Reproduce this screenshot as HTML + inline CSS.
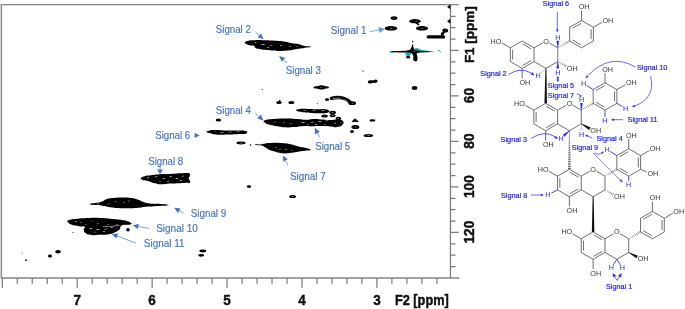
<!DOCTYPE html>
<html><head><meta charset="utf-8"><title>HSQC spectrum</title>
<style>html,body{margin:0;padding:0;background:#fff}svg{display:block}</style></head>
<body><svg width="685" height="309" viewBox="0 0 685 309">
<rect width="685" height="309" fill="#fff"/>
<g stroke="#7c7c7c" stroke-width="1.25" fill="none">
<path d="M1.35 277.6V4.5" stroke="#8c8c8c" stroke-width="1.5"/>
<path d="M0.7 4.55H458.8" stroke="#858585" stroke-width="1.35"/>
<path d="M0.7 277.9H459.2" stroke="#858585" stroke-width="1.5"/>
<path d="M450.45 4.5V277.9M2.3 277.9V287.8"/>
<path d="M17.29 277.9V283.8M32.27 277.9V283.8M47.25 277.9V283.8M62.24 277.9V283.8M77.22 277.9V287.8M92.21 277.9V283.8M107.19 277.9V283.8M122.18 277.9V283.8M137.17 277.9V283.8M152.15 277.9V287.8M167.13 277.9V283.8M182.12 277.9V283.8M197.11 277.9V283.8M212.09 277.9V283.8M227.07 277.9V287.8M242.06 277.9V283.8M257.05 277.9V283.8M272.03 277.9V283.8M287.01 277.9V283.8M302 277.9V287.8M316.99 277.9V283.8M331.97 277.9V283.8M346.95 277.9V283.8M361.94 277.9V283.8M376.93 277.9V287.8M391.91 277.9V283.8M406.89 277.9V283.8M421.88 277.9V283.8M436.87 277.9V283.8"/>
<path d="M450.4 16.27H455.5M450.4 27.65H455.5M450.4 39.02H455.5M450.4 50.4H458.6M450.4 61.77H455.5M450.4 73.15H455.5M450.4 84.53H455.5M450.4 95.9H458.6M450.4 107.28H455.5M450.4 118.65H455.5M450.4 130.03H455.5M450.4 141.4H458.6M450.4 152.78H455.5M450.4 164.15H455.5M450.4 175.53H455.5M450.4 186.9H458.6M450.4 198.28H455.5M450.4 209.65H455.5M450.4 221.03H455.5M450.4 232.4H458.6M450.4 243.78H455.5M450.4 255.15H455.5M450.4 266.52H455.5"/>
</g>
<g font-family="Liberation Sans, sans-serif" font-weight="bold" fill="#111" stroke="#111" stroke-width="0.45">
<text x="0" y="0" font-size="15" text-anchor="middle" transform="translate(77.2 304.7) scale(0.9 1)">7</text>
<text x="0" y="0" font-size="15" text-anchor="middle" transform="translate(152.12 304.7) scale(0.9 1)">6</text>
<text x="0" y="0" font-size="15" text-anchor="middle" transform="translate(227.04 304.7) scale(0.9 1)">5</text>
<text x="0" y="0" font-size="15" text-anchor="middle" transform="translate(301.96 304.7) scale(0.9 1)">4</text>
<text x="0" y="0" font-size="15" text-anchor="middle" transform="translate(376.88 304.7) scale(0.9 1)">3</text>
<text x="394.9" y="304.5" font-size="15" textLength="53.9" lengthAdjust="spacingAndGlyphs">F2 [ppm]</text>
<text transform="translate(474 95.6) rotate(-90) scale(0.96 1)" font-size="14.2" text-anchor="middle">60</text>
<text transform="translate(474 141.1) rotate(-90) scale(0.96 1)" font-size="14.2" text-anchor="middle">80</text>
<text transform="translate(474 186.6) rotate(-90) scale(0.96 1)" font-size="14.2" text-anchor="middle">100</text>
<text transform="translate(474 232.1) rotate(-90) scale(0.96 1)" font-size="14.2" text-anchor="middle">120</text>
<text transform="translate(473.5 63.1) rotate(-90)" font-size="13.4" textLength="56.8" lengthAdjust="spacingAndGlyphs">F1 [ppm]</text>
</g>
<g>
<path d="M245.11 42.23 C246.01 41.22 245.17 41.38 248.48 40.69 C251.78 39.99 249.58 40.26 255.02 40.13 C260.45 40.01 258.2 40.09 264.78 40.3 C271.36 40.52 268.43 40.4 274.77 40.77 C281.1 41.13 278.39 40.66 283.78 41.4 C289.18 42.13 286.29 42.07 290.96 42.96 C295.64 43.85 293.44 43.11 297.81 44.06 C302.18 45.02 299.99 44.99 304.06 45.82 C308.14 46.65 307.78 46.13 310.04 46.55 C312.3 46.96 312.79 46.62 310.84 47.07 C308.89 47.52 308.85 47.25 304.18 47.89 C299.51 48.54 301.58 48.19 296.82 49.01 C292.06 49.83 294.9 49.71 289.9 50.36 C284.91 51 287.79 50.88 281.84 50.94 C275.9 51 278.67 50.99 272.07 50.54 C265.46 50.08 267.45 50.41 262.02 49.58 C256.59 48.75 258.42 49.26 255.78 48.05 C253.14 46.85 256.25 46.9 254.09 45.96 C251.93 45.03 252.08 46 249.31 45.24 C246.54 44.49 247.17 44.71 245.78 43.7 C244.38 42.69 244.21 43.23 245.11 42.23Z" fill="#000"/>
<ellipse cx="263" cy="44.6" rx="2.17" ry="0.28" fill="#e8e8e8" transform="rotate(3 263 44.6)"/>
<ellipse cx="271" cy="45.2" rx="1.86" ry="0.28" fill="#e8e8e8" transform="rotate(4 271 45.2)"/>
<ellipse cx="255.5" cy="42.6" rx="1.24" ry="0.28" fill="#e8e8e8"/>
<ellipse cx="281" cy="45.6" rx="1.24" ry="0.28" fill="#e8e8e8" transform="rotate(3 281 45.6)"/>
<ellipse cx="290" cy="46.4" rx="0.93" ry="0.28" fill="#e8e8e8"/>
<ellipse cx="268" cy="47.4" rx="1.24" ry="0.28" fill="#e8e8e8"/>
<ellipse cx="297" cy="46.6" rx="0.74" ry="0.28" fill="#e8e8e8"/>
<path d="M263.75 121.3 C264.43 120.35 263.45 120.41 266.87 119.64 C270.29 118.87 267.93 119.37 274.01 118.99 C280.09 118.61 277.37 118.49 285.11 118.49 C292.86 118.5 290.29 118.6 297.24 119.01 C304.19 119.42 300.43 119.73 305.96 119.73 C311.49 119.72 308.56 119.08 313.83 118.99 C319.1 118.91 316.33 119.14 321.77 119.48 C327.21 119.83 324.99 120.03 330.13 120.04 C335.27 120.04 333.2 119.3 337.19 119.51 C341.18 119.71 340.35 118.96 342.1 120.65 C343.85 122.34 344.08 122.45 342.44 124.58 C340.8 126.7 341.32 126.39 337.17 127.02 C333.02 127.66 335.12 126.79 329.99 126.48 C324.86 126.17 327.75 126.18 321.78 126.1 C315.81 126.02 318.61 126.22 312.07 126.25 C305.53 126.28 308.2 125.91 302.16 126.19 C296.12 126.47 299.74 126.72 293.94 127.08 C288.14 127.45 290.8 127.64 284.76 127.28 C278.72 126.92 281.16 126.92 275.83 126.01 C270.51 125.09 272.45 125.71 268.78 124.53 C265.11 123.36 266.49 123.55 264.81 122.47 C263.14 121.4 263.06 122.25 263.75 121.3Z" fill="#000"/>
<ellipse cx="275" cy="122" rx="1.36" ry="0.31" fill="#e8e8e8"/>
<ellipse cx="284" cy="122.8" rx="0.99" ry="0.31" fill="#e8e8e8"/>
<ellipse cx="291" cy="123.4" rx="0.74" ry="0.31" fill="#e8e8e8"/>
<ellipse cx="303" cy="122.6" rx="2.17" ry="0.31" fill="#e8e8e8" transform="rotate(-4 303 122.6)"/>
<ellipse cx="312" cy="122.2" rx="1.98" ry="0.31" fill="#e8e8e8" transform="rotate(-5 312 122.2)"/>
<ellipse cx="320" cy="121.6" rx="1.86" ry="0.31" fill="#e8e8e8" transform="rotate(-6 320 121.6)"/>
<ellipse cx="327" cy="120.8" rx="1.61" ry="0.31" fill="#e8e8e8" transform="rotate(-4 327 120.8)"/>
<ellipse cx="316" cy="124.6" rx="1.55" ry="0.31" fill="#e8e8e8"/>
<ellipse cx="325" cy="124.2" rx="1.36" ry="0.31" fill="#e8e8e8"/>
<ellipse cx="333" cy="122.6" rx="1.24" ry="0.31" fill="#e8e8e8" transform="rotate(-10 333 122.6)"/>
<ellipse cx="336" cy="124.8" rx="0.99" ry="0.31" fill="#e8e8e8"/>
<ellipse cx="308" cy="124.8" rx="1.12" ry="0.31" fill="#e8e8e8"/>
<path d="M296.35 110.19 C296.96 109.43 295.9 109.41 299.79 108.97 C303.68 108.54 301.9 108.82 308.02 108.89 C314.15 108.96 312.54 109.09 318.16 109.18 C323.78 109.27 321.3 108.75 324.89 109.16 C328.48 109.56 327.48 109.64 328.93 110.39 C330.38 111.15 330.26 110.53 329.23 111.43 C328.2 112.32 328.96 112.44 325.84 113.07 C322.72 113.69 324.8 113.35 319.87 113.29 C314.94 113.23 316.75 113.23 311.04 112.88 C305.34 112.54 307.12 112.81 302.75 112.26 C298.38 111.71 300.07 111.92 297.93 111.23 C295.8 110.54 295.73 110.94 296.35 110.19Z" fill="#000"/>
<ellipse cx="305" cy="110.2" rx="1.86" ry="0.28" fill="#e8e8e8" transform="rotate(3 305 110.2)"/>
<ellipse cx="314" cy="110.8" rx="1.86" ry="0.28" fill="#e8e8e8" transform="rotate(2 314 110.8)"/>
<ellipse cx="323" cy="110.6" rx="2.11" ry="0.28" fill="#e8e8e8"/>
<ellipse cx="330" cy="110.8" rx="1.24" ry="0.28" fill="#e8e8e8"/>
<ellipse cx="332.6" cy="112.4" rx="3.4" ry="1.7" fill="#000"/>
<ellipse cx="332.6" cy="112.4" rx="0.99" ry="0.37" fill="#e8e8e8"/>
<ellipse cx="324.6" cy="116" rx="3.2" ry="1.5" fill="#000"/>
<ellipse cx="324.6" cy="116" rx="0.99" ry="0.31" fill="#e8e8e8"/>
<ellipse cx="332.6" cy="115.6" rx="3" ry="1.6" fill="#000"/>
<ellipse cx="332.6" cy="115.6" rx="0.87" ry="0.37" fill="#e8e8e8"/>
<ellipse cx="338.4" cy="118.6" rx="2.8" ry="1.8" fill="#000"/>
<ellipse cx="338.4" cy="118.6" rx="0.74" ry="0.37" fill="#e8e8e8"/>
<ellipse cx="341" cy="122.4" rx="2.4" ry="2.2" fill="#000"/>
<ellipse cx="341" cy="122.4" rx="0.62" ry="0.43" fill="#e8e8e8"/>
<ellipse cx="335" cy="123" rx="3" ry="2.4" fill="#000"/>
<ellipse cx="335" cy="123" rx="0.87" ry="0.5" fill="#e8e8e8"/>
<path d="M331.4 98.4 Q337 96.8 343 98 Q347.4 99.4 350.6 102.6" fill="none" stroke="#000" stroke-width="3.3" stroke-linecap="round"/>
<path d="M333 98.7 Q337 97.7 340 98.2" fill="none" stroke="#ddd" stroke-width="0.6" stroke-linecap="round"/>
<path d="M344.6 99.6 L347 101.2" fill="none" stroke="#ddd" stroke-width="0.6" stroke-linecap="round"/>
<ellipse cx="352.2" cy="103.2" rx="3.8" ry="1.9" fill="#000"/>
<ellipse cx="352.6" cy="103.2" rx="0.99" ry="0.31" fill="#e8e8e8"/>
<ellipse cx="327" cy="99.6" rx="2.2" ry="1.3" fill="#000"/>
<path d="M206.63 131.8 C207.14 131.21 206.19 131.33 209.01 130.76 C211.83 130.19 209.69 130.15 215.09 130.08 C220.49 130 218.5 130.38 225.2 130.54 C231.9 130.7 229.61 130.55 235.19 130.55 C240.77 130.55 238.21 130.28 241.95 130.55 C245.68 130.82 244.66 130.79 246.4 131.37 C248.15 131.95 247.23 131.6 247.18 132.28 C247.13 132.97 247.67 132.87 246.25 133.43 C244.83 134 246.09 133.74 242.92 133.98 C239.75 134.21 241.79 133.97 236.75 134.13 C231.71 134.28 234.13 134.24 227.8 134.43 C221.47 134.62 223.34 134.96 217.76 134.69 C212.18 134.42 214.49 134.35 211.06 133.62 C207.63 132.9 208.95 133.13 207.48 132.52 C206 131.91 206.12 132.38 206.63 131.8Z" fill="#000"/>
<ellipse cx="222" cy="132.4" rx="1.86" ry="0.28" fill="#e8e8e8"/>
<ellipse cx="230" cy="132" rx="2.11" ry="0.28" fill="#e8e8e8" transform="rotate(-3 230 132)"/>
<ellipse cx="238" cy="131.8" rx="1.86" ry="0.28" fill="#e8e8e8"/>
<ellipse cx="215" cy="131.8" rx="0.74" ry="0.28" fill="#e8e8e8"/>
<path d="M255.93 144.31 C257.37 144.09 257.49 144.62 260.17 144.45 C262.86 144.27 260.78 144.27 263.98 143.79 C267.19 143.31 264.48 143.27 269.79 143 C275.11 142.73 273.46 142.67 279.92 142.98 C286.38 143.29 283.22 142.85 289.16 143.93 C295.11 145.01 292.48 144.93 297.76 146.23 C303.04 147.52 300.93 146.81 305.01 147.82 C309.1 148.84 308.35 148.42 310.02 149.26 C311.69 150.1 311.63 149.83 310.01 150.34 C308.4 150.85 309.23 150.33 305.18 150.8 C301.14 151.26 303 151.02 297.88 151.73 C292.76 152.45 295.12 152.47 289.83 152.94 C284.55 153.4 286.99 153.6 282.02 153.14 C277.04 152.68 279.2 152.73 274.91 151.56 C270.63 150.4 272.57 151.18 269.16 149.64 C265.74 148.11 267.34 148.33 264.68 146.95 C262.01 145.58 264.1 146.13 261.16 145.52 C258.22 144.91 257.61 145.51 255.86 145.11 C254.12 144.71 254.5 144.53 255.93 144.31Z" fill="#000"/>
<ellipse cx="280" cy="149" rx="1.36" ry="0.28" fill="#e8e8e8"/>
<ellipse cx="286" cy="149.6" rx="0.87" ry="0.28" fill="#e8e8e8"/>
<ellipse cx="292" cy="150" rx="0.74" ry="0.28" fill="#e8e8e8"/>
<ellipse cx="276" cy="147.4" rx="0.74" ry="0.28" fill="#e8e8e8"/>
<path d="M140.93 178.36 C141.53 177.12 141.45 177.31 144.76 176.29 C148.08 175.27 145.72 175.97 150.88 175.3 C156.03 174.62 153.78 174.69 160.23 174.27 C166.67 173.86 163.55 174.36 170.22 174.04 C176.88 173.73 174.68 173.69 180.23 173.33 C185.77 172.97 183.72 172.86 186.86 172.96 C190 173.07 188.71 172.57 189.65 173.65 C190.58 174.73 189.95 174.62 189.66 176.2 C189.37 177.78 188.63 176.27 188.77 178.39 C188.91 180.51 191.4 181.05 190.08 182.55 C188.75 184.05 188.75 182.68 184.79 182.88 C180.84 183.08 183.09 182.9 178.2 183.14 C173.32 183.38 175.58 183.25 170.13 183.59 C164.67 183.92 166.91 184.29 161.84 184.14 C156.77 184 159.45 184.15 154.92 183.15 C150.38 182.15 152.22 182.19 148.24 181.15 C144.25 180.11 145.39 180.95 142.95 180.02 C140.51 179.1 140.32 179.61 140.93 178.36Z" fill="#000"/>
<ellipse cx="148" cy="177.6" rx="1.24" ry="0.31" fill="#e8e8e8" transform="rotate(-20 148 177.6)"/>
<ellipse cx="156" cy="176.8" rx="1.49" ry="0.31" fill="#e8e8e8" transform="rotate(-15 156 176.8)"/>
<ellipse cx="164" cy="178.6" rx="1.61" ry="0.31" fill="#e8e8e8" transform="rotate(-10 164 178.6)"/>
<ellipse cx="171" cy="176.4" rx="1.49" ry="0.31" fill="#e8e8e8" transform="rotate(-25 171 176.4)"/>
<ellipse cx="177" cy="178.4" rx="1.49" ry="0.31" fill="#e8e8e8" transform="rotate(-15 177 178.4)"/>
<ellipse cx="183" cy="176.2" rx="1.24" ry="0.31" fill="#e8e8e8" transform="rotate(-30 183 176.2)"/>
<ellipse cx="160" cy="181" rx="1.24" ry="0.31" fill="#e8e8e8"/>
<ellipse cx="168" cy="181.2" rx="1.36" ry="0.31" fill="#e8e8e8" transform="rotate(-10 168 181.2)"/>
<ellipse cx="181" cy="180.6" rx="1.24" ry="0.31" fill="#e8e8e8" transform="rotate(-20 181 180.6)"/>
<path d="M91.11 203.44 C93.01 202.83 93.12 203.45 96.81 202.83 C100.51 202.2 99.2 202.64 102.2 201.55 C105.21 200.47 102.48 200.72 105.82 199.56 C109.17 198.41 107.54 198.72 112.24 198.08 C116.94 197.43 114.07 197.73 119.93 197.62 C125.78 197.52 123.71 197.07 129.82 197.76 C135.92 198.44 133.84 198.32 138.24 199.67 C142.63 201.03 139.1 200.51 143.01 201.82 C146.92 203.12 144.25 202.87 149.97 203.59 C155.68 204.3 154.53 203.65 160.16 203.96 C165.8 204.26 164.64 203.97 166.88 204.5 C169.11 205.03 169.87 205.02 166.87 205.54 C163.87 206.06 163.56 205.71 157.88 206.06 C152.19 206.41 154.47 206.33 149.82 206.61 C145.16 206.88 147.85 206.51 143.93 206.88 C140 207.24 143.36 207.26 138.04 207.7 C132.72 208.15 134.64 208.1 127.96 208.21 C121.28 208.31 123.98 208.37 118 208.02 C112.02 207.67 114.69 207.82 110.01 207.16 C105.33 206.5 107.39 206.71 103.97 206.04 C100.55 205.37 102.8 205.53 99.75 205.15 C96.71 204.76 97.72 205.06 94.84 204.89 C91.96 204.71 92.35 205.11 91.11 204.63 C89.87 204.14 89.21 204.04 91.11 203.44Z" fill="#000"/>
<ellipse cx="116" cy="201.6" rx="0.99" ry="0.28" fill="#e8e8e8" transform="rotate(-15 116 201.6)"/>
<ellipse cx="124" cy="202.6" rx="0.74" ry="0.28" fill="#e8e8e8" transform="rotate(-10 124 202.6)"/>
<ellipse cx="129" cy="201" rx="0.99" ry="0.28" fill="#e8e8e8" transform="rotate(-15 129 201)"/>
<ellipse cx="98" cy="203.9" rx="1.36" ry="0.28" fill="#e8e8e8"/>
<ellipse cx="109" cy="203.4" rx="0.62" ry="0.28" fill="#e8e8e8"/>
<path d="M67.51 221.01 C68.07 220.03 66.6 220.44 70.03 219.64 C73.46 218.85 71.19 219.18 77.8 218.63 C84.42 218.08 82.43 218.2 89.87 217.99 C97.32 217.78 93.42 217.79 100.14 218 C106.86 218.22 103.34 218.04 110.03 218.63 C116.72 219.22 114.53 218.91 120.21 219.77 C125.88 220.63 123.46 220.09 127.06 221.2 C130.66 222.31 129.7 222.09 131.01 223.1 C132.31 224.1 132.32 223.64 130.98 224.22 C129.64 224.79 129.61 224.53 126.99 224.82 C124.36 225.11 125.22 224.54 123.1 225.09 C120.98 225.64 121.84 224.97 120.62 226.48 C119.4 227.99 121.25 227.71 119.43 229.62 C117.61 231.53 118.71 230.7 115.17 232.22 C111.63 233.74 113.94 233.29 108.81 234.17 C103.68 235.05 105.46 234.63 99.79 234.87 C94.11 235.11 96.33 235.38 91.79 234.88 C87.24 234.39 88.8 234.99 86.14 233.4 C83.49 231.81 84.31 232.3 83.83 230.11 C83.34 227.92 86.23 228.11 84.68 226.82 C83.13 225.53 83.46 226.9 79.19 226.23 C74.92 225.57 75.47 226.04 71.86 224.83 C68.25 223.61 69.8 223.87 68.35 222.59 C66.9 221.32 66.95 221.99 67.51 221.01Z" fill="#000"/>
<ellipse cx="76" cy="221.4" rx="1.24" ry="0.31" fill="#e8e8e8"/>
<ellipse cx="81" cy="222.6" rx="0.87" ry="0.31" fill="#e8e8e8"/>
<ellipse cx="92" cy="221" rx="0.74" ry="0.31" fill="#e8e8e8"/>
<ellipse cx="98" cy="223.4" rx="0.74" ry="0.31" fill="#e8e8e8"/>
<ellipse cx="91" cy="228.6" rx="1.86" ry="0.31" fill="#e8e8e8" transform="rotate(-5 91 228.6)"/>
<ellipse cx="98" cy="229.4" rx="2.11" ry="0.31" fill="#e8e8e8" transform="rotate(-8 98 229.4)"/>
<ellipse cx="106" cy="229" rx="1.86" ry="0.31" fill="#e8e8e8" transform="rotate(-12 106 229)"/>
<ellipse cx="112" cy="227.4" rx="1.61" ry="0.31" fill="#e8e8e8" transform="rotate(-20 112 227.4)"/>
<ellipse cx="95" cy="232" rx="1.49" ry="0.31" fill="#e8e8e8"/>
<ellipse cx="104" cy="231.6" rx="1.24" ry="0.31" fill="#e8e8e8" transform="rotate(-10 104 231.6)"/>
<ellipse cx="86" cy="224.4" rx="0.74" ry="0.31" fill="#e8e8e8"/>
<ellipse cx="108" cy="224.6" rx="0.74" ry="0.31" fill="#e8e8e8"/>
<ellipse cx="117" cy="224.4" rx="0.87" ry="0.31" fill="#e8e8e8"/>
<path d="M103 226.6Q111 226.6 119.6 225.4" stroke="#eee" stroke-width="0.55" fill="none"/>
<ellipse cx="128" cy="229.7" rx="1.8" ry="1.7" fill="#000"/>
<ellipse cx="73" cy="232.5" rx="0.7" ry="0.6" fill="#333"/>
<ellipse cx="58" cy="251.7" rx="2.8" ry="1.8" fill="#000"/>
<ellipse cx="50" cy="256.1" rx="2" ry="1.5" fill="#000"/>
<ellipse cx="22" cy="253" rx="0.7" ry="0.6" fill="#555"/>
<ellipse cx="26" cy="260.2" rx="1" ry="0.9" fill="#222"/>
<ellipse cx="202.8" cy="251" rx="3.4" ry="1.4" fill="#000"/>
<ellipse cx="201.2" cy="255.3" rx="3" ry="1.4" fill="#000"/>
<ellipse cx="249" cy="186.6" rx="2.2" ry="1.3" fill="#000"/>
<ellipse cx="292.6" cy="196.6" rx="3.4" ry="1.5" fill="#000"/>
<ellipse cx="292.6" cy="196.6" rx="0.87" ry="0.28" fill="#e8e8e8"/>
<ellipse cx="218.4" cy="120" rx="2.8" ry="1.5" fill="#000"/>
<ellipse cx="241" cy="143" rx="4.6" ry="1.4" fill="#000"/>
<ellipse cx="241" cy="143" rx="1.24" ry="0.25" fill="#e8e8e8"/>
<ellipse cx="250.6" cy="145" rx="0.8" ry="0.7" fill="#000"/>
<ellipse cx="279" cy="102.5" rx="2.8" ry="1.5" fill="#000"/>
<ellipse cx="279.8" cy="100.6" rx="0.8" ry="0.8" fill="#000"/>
<ellipse cx="291.4" cy="102.6" rx="3" ry="1.5" fill="#000"/>
<ellipse cx="321.2" cy="87.4" rx="7.8" ry="1.7" fill="#000"/>
<ellipse cx="321.4" cy="87.4" rx="3.4" ry="2.2" fill="#000"/>
<ellipse cx="321.2" cy="87.4" rx="0.99" ry="0.25" fill="#e8e8e8"/>
<ellipse cx="372.6" cy="81.6" rx="4.6" ry="1.4" fill="#000"/>
<ellipse cx="370.2" cy="82.1" rx="2.4" ry="1.5" fill="#000"/>
<ellipse cx="375.6" cy="81" rx="2" ry="1.5" fill="#000"/>
<ellipse cx="414.6" cy="88" rx="2.8" ry="1.9" fill="#000"/>
<ellipse cx="363" cy="71.1" rx="0.8" ry="0.6" fill="#444"/>
<ellipse cx="262.4" cy="89.4" rx="0.7" ry="0.6" fill="#555"/>
<ellipse cx="317.4" cy="103.6" rx="0.7" ry="0.6" fill="#555"/>
<path d="M352 121.6L355 118.8L358.4 121.6Z" fill="#000" stroke="#000" stroke-width="0.8" stroke-linejoin="round"/>
<ellipse cx="372.4" cy="120.4" rx="3" ry="1.2" fill="#000"/>
<ellipse cx="355.4" cy="127" rx="4" ry="2" fill="#000"/>
<ellipse cx="355.4" cy="127" rx="0.99" ry="0.37" fill="#e8e8e8"/>
<ellipse cx="352" cy="131.6" rx="1.9" ry="1.5" fill="#000"/>
<ellipse cx="368.4" cy="135.4" rx="4.8" ry="1.5" fill="#000"/>
<ellipse cx="368.4" cy="135.4" rx="1.36" ry="0.28" fill="#e8e8e8"/>
<ellipse cx="394" cy="18.1" rx="3.5" ry="1.9" fill="#000"/>
<ellipse cx="394" cy="18.1" rx="0.74" ry="0.22" fill="#e8e8e8"/>
<ellipse cx="415" cy="21.2" rx="5.9" ry="2.1" fill="#000"/>
<ellipse cx="416.4" cy="21" rx="0.99" ry="0.31" fill="#e8e8e8"/>
<path d="M416 22.6L418.6 24.6" stroke="#000" stroke-width="1.6" stroke-linecap="round"/>
<ellipse cx="391" cy="28.3" rx="6.4" ry="2.3" fill="#000"/>
<ellipse cx="391.2" cy="28.3" rx="1.24" ry="0.25" fill="#e8e8e8"/>
<ellipse cx="422" cy="28.3" rx="6.1" ry="2.3" fill="#000"/>
<ellipse cx="422.2" cy="28.3" rx="1.24" ry="0.25" fill="#e8e8e8"/>
<rect x="426.6" y="35.2" width="18.6" height="3.2" rx="1.5" fill="#000"/>
<ellipse cx="442.6" cy="33.6" rx="1.7" ry="1.5" fill="#000"/>
<ellipse cx="445.2" cy="30.5" rx="2.9" ry="2.1" fill="#000"/>
<ellipse cx="445.2" cy="30.4" rx="0.5" ry="0.25" fill="#e8e8e8"/>
<path d="M441 36L443 33.4L445 31" stroke="#000" stroke-width="1.6" fill="none"/>
<path d="M447.6 6.8L450 5.2V8.6Z M447.6 21.3L450 19.5V23.1Z" fill="#000" stroke="#000" stroke-width="0.8" stroke-linejoin="round"/>
<path d="M413.6 50.8Q414.4 47.4 417.4 48.2Q421 50 426 50.6L431 51.4L414 52Z" fill="#13a5a8"/>
<path d="M405.8 52.6L411 52.2L410.4 55.6Q407.6 56.6 405.4 55Z" fill="#13a5a8"/>
<ellipse cx="392" cy="52.2" rx="2" ry="0.8" fill="#13a5a8"/>
<path d="M437.6 50.2L439.6 50.6L440.6 52.2" stroke="#13a5a8" stroke-width="0.9" fill="none"/>
<path d="M388.8 51.3L398 50.9L406 50.7L410 49.8L411.6 47L412.4 44.2L412.9 44L413.6 47.4L414.6 50.2L420 51L428 51.2L435 51.3L428 52.2L420 52.6L416.6 53.2L417.6 58L417 61L415 61.6L413.2 60L413.4 56L412 53.4L409 52.6L402 52.4L394 52.2Z" fill="#000"/>
<ellipse cx="412.7" cy="41.6" rx="0.7" ry="0.8" fill="#000"/>
<ellipse cx="408.2" cy="57.2" rx="2.2" ry="1.3" fill="#000"/>
<ellipse cx="408.2" cy="57.2" rx="0.5" ry="0.22" fill="#e8e8e8"/>
<ellipse cx="414.1" cy="51.5" rx="0.56" ry="0.43" fill="#e8e8e8"/>
</g>
<g font-family="Liberation Sans, sans-serif" font-size="10.4" fill="#4472c4" stroke="#4472c4" stroke-width="0.15">
<text x="215.8" y="32.6" textLength="35" lengthAdjust="spacingAndGlyphs">Signal 2</text>
<text x="285.8" y="74.2" textLength="35" lengthAdjust="spacingAndGlyphs">Signal 3</text>
<text x="330.8" y="34.1" textLength="35.6" lengthAdjust="spacingAndGlyphs">Signal 1</text>
<text x="215.8" y="114" textLength="35" lengthAdjust="spacingAndGlyphs">Signal 4</text>
<text x="155.2" y="139" textLength="35" lengthAdjust="spacingAndGlyphs">Signal 6</text>
<text x="315.2" y="149.6" textLength="35" lengthAdjust="spacingAndGlyphs">Signal 5</text>
<text x="290" y="179.7" textLength="35.8" lengthAdjust="spacingAndGlyphs">Signal 7</text>
<text x="148.2" y="164.6" textLength="35" lengthAdjust="spacingAndGlyphs">Signal 8</text>
<text x="190.8" y="217.1" textLength="35.4" lengthAdjust="spacingAndGlyphs">Signal 9</text>
<text x="156.2" y="231.7" textLength="41.6" lengthAdjust="spacingAndGlyphs">Signal 10</text>
<text x="143.8" y="247.1" textLength="40.8" lengthAdjust="spacingAndGlyphs">Signal 11</text>
</g>
<line x1="255.4" y1="31.8" x2="259.29" y2="35.31" stroke="#4472c4" stroke-width="0.65"/>
<polygon points="263.6,39.2 257.55,37.24 261.04,33.38" fill="#4472c4"/>
<line x1="287.2" y1="63.2" x2="283.51" y2="59.88" stroke="#4472c4" stroke-width="0.65"/>
<polygon points="279.2,56 285.25,57.95 281.77,61.81" fill="#4472c4"/>
<line x1="370" y1="31.6" x2="379.09" y2="29.94" stroke="#5b9bd5" stroke-width="0.8"/>
<polygon points="384.8,28.9 379.65,32.99 378.54,26.89" fill="#5b9bd5"/>
<line x1="255.2" y1="113.2" x2="259.04" y2="116.57" stroke="#4472c4" stroke-width="0.65"/>
<polygon points="263.4,120.4 257.33,118.53 260.76,114.62" fill="#4472c4"/>
<polygon points="199.8,135.4 194.6,137.9 194.6,132.9" fill="#4472c4"/>
<line x1="319.4" y1="137.2" x2="317.35" y2="133.01" stroke="#4472c4" stroke-width="0.65"/>
<polygon points="314.8,127.8 319.68,131.87 315.01,134.15" fill="#4472c4"/>
<line x1="288" y1="165.2" x2="285.52" y2="160.52" stroke="#4472c4" stroke-width="0.65"/>
<polygon points="282.8,155.4 287.82,159.3 283.22,161.74" fill="#4472c4"/>
<line x1="160" y1="166" x2="160" y2="169.6" stroke="#4472c4" stroke-width="0.65"/>
<polygon points="160,174.2 157,169.6 163,169.6" fill="#4472c4"/>
<line x1="183.8" y1="213.2" x2="179.26" y2="210.64" stroke="#4472c4" stroke-width="0.65"/>
<polygon points="174.2,207.8 180.53,208.38 177.98,212.91" fill="#4472c4"/>
<line x1="149.2" y1="228.4" x2="138.31" y2="226.43" stroke="#4472c4" stroke-width="0.65"/>
<polygon points="132.6,225.4 138.77,223.87 137.85,228.99" fill="#4472c4"/>
<line x1="136.2" y1="243.2" x2="117.23" y2="236.05" stroke="#4472c4" stroke-width="0.65"/>
<polygon points="111.8,234 118.14,233.61 116.31,238.48" fill="#4472c4"/>
<g font-family="Liberation Sans, sans-serif">
<line x1="522.2" y1="41" x2="534.06" y2="47.85" stroke="#363636" stroke-width="0.72"/>
<line x1="534.06" y1="47.85" x2="534.06" y2="61.55" stroke="#363636" stroke-width="0.72"/>
<line x1="534.06" y1="61.55" x2="522.2" y2="68.4" stroke="#363636" stroke-width="0.72"/>
<line x1="522.2" y1="68.4" x2="510.34" y2="61.55" stroke="#363636" stroke-width="0.72"/>
<line x1="510.34" y1="61.55" x2="510.34" y2="47.85" stroke="#363636" stroke-width="0.72"/>
<line x1="510.34" y1="47.85" x2="522.2" y2="41" stroke="#363636" stroke-width="0.72"/>
<line x1="512.64" y1="59.63" x2="512.64" y2="49.77" stroke="#363636" stroke-width="0.72"/>
<line x1="522.71" y1="43.95" x2="531.25" y2="48.88" stroke="#363636" stroke-width="0.72"/>
<line x1="531.25" y1="60.52" x2="522.71" y2="65.45" stroke="#363636" stroke-width="0.72"/>
<line x1="534.06" y1="47.85" x2="542.81" y2="42.8" stroke="#363636" stroke-width="0.72"/>
<line x1="549.05" y1="42.8" x2="557.79" y2="47.85" stroke="#363636" stroke-width="0.72"/>
<line x1="557.79" y1="47.85" x2="557.79" y2="61.55" stroke="#363636" stroke-width="0.72"/>
<line x1="557.79" y1="61.55" x2="545.93" y2="68.4" stroke="#363636" stroke-width="0.72"/>
<line x1="545.93" y1="68.4" x2="534.06" y2="61.55" stroke="#363636" stroke-width="0.72"/>
<text x="545.93" y="43.58" fill="#363636" font-size="7.2" text-anchor="middle" >O</text>
<line x1="569.66" y1="41" x2="569.66" y2="27.3" stroke="#363636" stroke-width="0.72"/>
<line x1="569.66" y1="27.3" x2="581.52" y2="20.45" stroke="#363636" stroke-width="0.72"/>
<line x1="581.52" y1="20.45" x2="593.39" y2="27.3" stroke="#363636" stroke-width="0.72"/>
<line x1="593.39" y1="27.3" x2="593.39" y2="41" stroke="#363636" stroke-width="0.72"/>
<line x1="593.39" y1="41" x2="581.52" y2="47.85" stroke="#363636" stroke-width="0.72"/>
<line x1="581.52" y1="47.85" x2="569.66" y2="41" stroke="#363636" stroke-width="0.72"/>
<line x1="572.47" y1="28.33" x2="581.01" y2="23.4" stroke="#363636" stroke-width="0.72"/>
<line x1="591.09" y1="29.22" x2="591.09" y2="39.08" stroke="#363636" stroke-width="0.72"/>
<line x1="581.01" y1="44.9" x2="572.47" y2="39.97" stroke="#363636" stroke-width="0.72"/>
<line x1="558.72" y1="47.74" x2="558.35" y2="47.11" stroke="#363636" stroke-width="0.6"/>
<line x1="560.26" y1="46.99" x2="559.77" y2="46.14" stroke="#363636" stroke-width="0.6"/>
<line x1="561.81" y1="46.24" x2="561.2" y2="45.18" stroke="#363636" stroke-width="0.6"/>
<line x1="563.35" y1="45.49" x2="562.62" y2="44.21" stroke="#363636" stroke-width="0.6"/>
<line x1="564.9" y1="44.74" x2="564.04" y2="43.25" stroke="#363636" stroke-width="0.6"/>
<line x1="566.44" y1="44" x2="565.46" y2="42.29" stroke="#363636" stroke-width="0.6"/>
<line x1="567.99" y1="43.25" x2="566.88" y2="41.32" stroke="#363636" stroke-width="0.6"/>
<line x1="569.54" y1="42.5" x2="568.3" y2="40.36" stroke="#363636" stroke-width="0.6"/>
<line x1="510.34" y1="47.85" x2="501.76" y2="42.9" stroke="#363636" stroke-width="0.72"/>
<text x="501.27" y="43.58" fill="#363636" font-size="7.2" text-anchor="end" >HO</text>
<line x1="522.2" y1="68.4" x2="522.2" y2="78.3" stroke="#363636" stroke-width="0.72"/>
<text x="519.4" y="84.68" fill="#363636" font-size="7.2" text-anchor="start" >OH</text>
<line x1="581.52" y1="20.45" x2="581.52" y2="10.55" stroke="#363636" stroke-width="0.72"/>
<text x="578.72" y="9.33" fill="#363636" font-size="7.2" text-anchor="start" >OH</text>
<line x1="593.39" y1="27.3" x2="601.96" y2="22.35" stroke="#363636" stroke-width="0.72"/>
<text x="602.45" y="23.03" fill="#363636" font-size="7.2" text-anchor="start" >OH</text>
<line x1="545.7" y1="103.3" x2="557.56" y2="110.15" stroke="#363636" stroke-width="0.72"/>
<line x1="557.56" y1="110.15" x2="557.56" y2="123.85" stroke="#363636" stroke-width="0.72"/>
<line x1="557.56" y1="123.85" x2="545.7" y2="130.7" stroke="#363636" stroke-width="0.72"/>
<line x1="545.7" y1="130.7" x2="533.84" y2="123.85" stroke="#363636" stroke-width="0.72"/>
<line x1="533.84" y1="123.85" x2="533.84" y2="110.15" stroke="#363636" stroke-width="0.72"/>
<line x1="533.84" y1="110.15" x2="545.7" y2="103.3" stroke="#363636" stroke-width="0.72"/>
<line x1="536.14" y1="121.93" x2="536.14" y2="112.07" stroke="#363636" stroke-width="0.72"/>
<line x1="546.21" y1="106.25" x2="554.75" y2="111.18" stroke="#363636" stroke-width="0.72"/>
<line x1="554.75" y1="122.82" x2="546.21" y2="127.75" stroke="#363636" stroke-width="0.72"/>
<line x1="557.56" y1="110.15" x2="566.31" y2="105.1" stroke="#363636" stroke-width="0.72"/>
<line x1="572.55" y1="105.1" x2="581.29" y2="110.15" stroke="#363636" stroke-width="0.72"/>
<line x1="581.29" y1="110.15" x2="581.29" y2="123.85" stroke="#363636" stroke-width="0.72"/>
<line x1="581.29" y1="123.85" x2="569.43" y2="130.7" stroke="#363636" stroke-width="0.72"/>
<line x1="569.43" y1="130.7" x2="557.56" y2="123.85" stroke="#363636" stroke-width="0.72"/>
<text x="569.43" y="105.88" fill="#363636" font-size="7.2" text-anchor="middle" >O</text>
<line x1="593.16" y1="103.3" x2="593.16" y2="89.6" stroke="#363636" stroke-width="0.72"/>
<line x1="593.16" y1="89.6" x2="605.02" y2="82.75" stroke="#363636" stroke-width="0.72"/>
<line x1="605.02" y1="82.75" x2="616.89" y2="89.6" stroke="#363636" stroke-width="0.72"/>
<line x1="616.89" y1="89.6" x2="616.89" y2="103.3" stroke="#363636" stroke-width="0.72"/>
<line x1="616.89" y1="103.3" x2="605.02" y2="110.15" stroke="#363636" stroke-width="0.72"/>
<line x1="605.02" y1="110.15" x2="593.16" y2="103.3" stroke="#363636" stroke-width="0.72"/>
<line x1="595.97" y1="90.63" x2="604.51" y2="85.7" stroke="#363636" stroke-width="0.72"/>
<line x1="614.59" y1="91.52" x2="614.59" y2="101.38" stroke="#363636" stroke-width="0.72"/>
<line x1="604.51" y1="107.2" x2="595.97" y2="102.27" stroke="#363636" stroke-width="0.72"/>
<line x1="582.22" y1="110.04" x2="581.85" y2="109.41" stroke="#363636" stroke-width="0.6"/>
<line x1="583.76" y1="109.29" x2="583.27" y2="108.44" stroke="#363636" stroke-width="0.6"/>
<line x1="585.31" y1="108.54" x2="584.7" y2="107.48" stroke="#363636" stroke-width="0.6"/>
<line x1="586.85" y1="107.79" x2="586.12" y2="106.51" stroke="#363636" stroke-width="0.6"/>
<line x1="588.4" y1="107.04" x2="587.54" y2="105.55" stroke="#363636" stroke-width="0.6"/>
<line x1="589.94" y1="106.3" x2="588.96" y2="104.59" stroke="#363636" stroke-width="0.6"/>
<line x1="591.49" y1="105.55" x2="590.38" y2="103.62" stroke="#363636" stroke-width="0.6"/>
<line x1="593.04" y1="104.8" x2="591.8" y2="102.66" stroke="#363636" stroke-width="0.6"/>
<line x1="533.84" y1="110.15" x2="525.26" y2="105.2" stroke="#363636" stroke-width="0.72"/>
<text x="524.77" y="105.88" fill="#363636" font-size="7.2" text-anchor="end" >HO</text>
<line x1="545.7" y1="130.7" x2="545.7" y2="140.6" stroke="#363636" stroke-width="0.72"/>
<text x="542.9" y="146.98" fill="#363636" font-size="7.2" text-anchor="start" >OH</text>
<line x1="605.02" y1="82.75" x2="605.02" y2="72.85" stroke="#363636" stroke-width="0.72"/>
<text x="602.22" y="71.63" fill="#363636" font-size="7.2" text-anchor="start" >OH</text>
<line x1="616.89" y1="89.6" x2="625.46" y2="84.65" stroke="#363636" stroke-width="0.72"/>
<text x="625.95" y="85.33" fill="#363636" font-size="7.2" text-anchor="start" >OH</text>
<line x1="569.4" y1="169.3" x2="581.26" y2="176.15" stroke="#363636" stroke-width="0.72"/>
<line x1="581.26" y1="176.15" x2="581.26" y2="189.85" stroke="#363636" stroke-width="0.72"/>
<line x1="581.26" y1="189.85" x2="569.4" y2="196.7" stroke="#363636" stroke-width="0.72"/>
<line x1="569.4" y1="196.7" x2="557.54" y2="189.85" stroke="#363636" stroke-width="0.72"/>
<line x1="557.54" y1="189.85" x2="557.54" y2="176.15" stroke="#363636" stroke-width="0.72"/>
<line x1="557.54" y1="176.15" x2="569.4" y2="169.3" stroke="#363636" stroke-width="0.72"/>
<line x1="559.84" y1="187.93" x2="559.84" y2="178.07" stroke="#363636" stroke-width="0.72"/>
<line x1="569.91" y1="172.25" x2="578.45" y2="177.18" stroke="#363636" stroke-width="0.72"/>
<line x1="578.45" y1="188.82" x2="569.91" y2="193.75" stroke="#363636" stroke-width="0.72"/>
<line x1="581.26" y1="176.15" x2="590.01" y2="171.1" stroke="#363636" stroke-width="0.72"/>
<line x1="596.25" y1="171.1" x2="604.99" y2="176.15" stroke="#363636" stroke-width="0.72"/>
<line x1="604.99" y1="176.15" x2="604.99" y2="189.85" stroke="#363636" stroke-width="0.72"/>
<line x1="604.99" y1="189.85" x2="593.13" y2="196.7" stroke="#363636" stroke-width="0.72"/>
<line x1="593.13" y1="196.7" x2="581.26" y2="189.85" stroke="#363636" stroke-width="0.72"/>
<text x="593.13" y="171.88" fill="#363636" font-size="7.2" text-anchor="middle" >O</text>
<line x1="616.86" y1="169.3" x2="616.86" y2="155.6" stroke="#363636" stroke-width="0.72"/>
<line x1="616.86" y1="155.6" x2="628.72" y2="148.75" stroke="#363636" stroke-width="0.72"/>
<line x1="628.72" y1="148.75" x2="640.59" y2="155.6" stroke="#363636" stroke-width="0.72"/>
<line x1="640.59" y1="155.6" x2="640.59" y2="169.3" stroke="#363636" stroke-width="0.72"/>
<line x1="640.59" y1="169.3" x2="628.72" y2="176.15" stroke="#363636" stroke-width="0.72"/>
<line x1="628.72" y1="176.15" x2="616.86" y2="169.3" stroke="#363636" stroke-width="0.72"/>
<line x1="619.67" y1="156.63" x2="628.21" y2="151.7" stroke="#363636" stroke-width="0.72"/>
<line x1="638.29" y1="157.52" x2="638.29" y2="167.38" stroke="#363636" stroke-width="0.72"/>
<line x1="628.21" y1="173.2" x2="619.67" y2="168.27" stroke="#363636" stroke-width="0.72"/>
<line x1="605.92" y1="176.04" x2="605.55" y2="175.41" stroke="#363636" stroke-width="0.6"/>
<line x1="607.46" y1="175.29" x2="606.97" y2="174.44" stroke="#363636" stroke-width="0.6"/>
<line x1="609.01" y1="174.54" x2="608.4" y2="173.48" stroke="#363636" stroke-width="0.6"/>
<line x1="610.55" y1="173.79" x2="609.82" y2="172.51" stroke="#363636" stroke-width="0.6"/>
<line x1="612.1" y1="173.04" x2="611.24" y2="171.55" stroke="#363636" stroke-width="0.6"/>
<line x1="613.64" y1="172.3" x2="612.66" y2="170.59" stroke="#363636" stroke-width="0.6"/>
<line x1="615.19" y1="171.55" x2="614.08" y2="169.62" stroke="#363636" stroke-width="0.6"/>
<line x1="616.74" y1="170.8" x2="615.5" y2="168.66" stroke="#363636" stroke-width="0.6"/>
<line x1="557.54" y1="176.15" x2="548.96" y2="171.2" stroke="#363636" stroke-width="0.72"/>
<text x="548.47" y="171.88" fill="#363636" font-size="7.2" text-anchor="end" >HO</text>
<line x1="569.4" y1="196.7" x2="569.4" y2="206.6" stroke="#363636" stroke-width="0.72"/>
<text x="566.6" y="212.98" fill="#363636" font-size="7.2" text-anchor="start" >OH</text>
<line x1="628.72" y1="148.75" x2="628.72" y2="138.85" stroke="#363636" stroke-width="0.72"/>
<text x="625.92" y="137.63" fill="#363636" font-size="7.2" text-anchor="start" >OH</text>
<line x1="640.59" y1="155.6" x2="649.16" y2="150.65" stroke="#363636" stroke-width="0.72"/>
<text x="649.65" y="151.33" fill="#363636" font-size="7.2" text-anchor="start" >OH</text>
<line x1="593.1" y1="231.9" x2="604.96" y2="238.75" stroke="#363636" stroke-width="0.72"/>
<line x1="604.96" y1="238.75" x2="604.96" y2="252.45" stroke="#363636" stroke-width="0.72"/>
<line x1="604.96" y1="252.45" x2="593.1" y2="259.3" stroke="#363636" stroke-width="0.72"/>
<line x1="593.1" y1="259.3" x2="581.24" y2="252.45" stroke="#363636" stroke-width="0.72"/>
<line x1="581.24" y1="252.45" x2="581.24" y2="238.75" stroke="#363636" stroke-width="0.72"/>
<line x1="581.24" y1="238.75" x2="593.1" y2="231.9" stroke="#363636" stroke-width="0.72"/>
<line x1="583.54" y1="250.53" x2="583.54" y2="240.67" stroke="#363636" stroke-width="0.72"/>
<line x1="593.61" y1="234.85" x2="602.15" y2="239.78" stroke="#363636" stroke-width="0.72"/>
<line x1="602.15" y1="251.42" x2="593.61" y2="256.35" stroke="#363636" stroke-width="0.72"/>
<line x1="604.96" y1="238.75" x2="613.71" y2="233.7" stroke="#363636" stroke-width="0.72"/>
<line x1="619.95" y1="233.7" x2="628.69" y2="238.75" stroke="#363636" stroke-width="0.72"/>
<line x1="628.69" y1="238.75" x2="628.69" y2="252.45" stroke="#363636" stroke-width="0.72"/>
<line x1="628.69" y1="252.45" x2="616.83" y2="259.3" stroke="#363636" stroke-width="0.72"/>
<line x1="616.83" y1="259.3" x2="604.96" y2="252.45" stroke="#363636" stroke-width="0.72"/>
<text x="616.83" y="234.48" fill="#363636" font-size="7.2" text-anchor="middle" >O</text>
<line x1="640.56" y1="231.9" x2="640.56" y2="218.2" stroke="#363636" stroke-width="0.72"/>
<line x1="640.56" y1="218.2" x2="652.42" y2="211.35" stroke="#363636" stroke-width="0.72"/>
<line x1="652.42" y1="211.35" x2="664.29" y2="218.2" stroke="#363636" stroke-width="0.72"/>
<line x1="664.29" y1="218.2" x2="664.29" y2="231.9" stroke="#363636" stroke-width="0.72"/>
<line x1="664.29" y1="231.9" x2="652.42" y2="238.75" stroke="#363636" stroke-width="0.72"/>
<line x1="652.42" y1="238.75" x2="640.56" y2="231.9" stroke="#363636" stroke-width="0.72"/>
<line x1="643.37" y1="219.23" x2="651.91" y2="214.3" stroke="#363636" stroke-width="0.72"/>
<line x1="661.99" y1="220.12" x2="661.99" y2="229.98" stroke="#363636" stroke-width="0.72"/>
<line x1="651.91" y1="235.8" x2="643.37" y2="230.87" stroke="#363636" stroke-width="0.72"/>
<line x1="629.62" y1="238.64" x2="629.25" y2="238.01" stroke="#363636" stroke-width="0.6"/>
<line x1="631.16" y1="237.89" x2="630.67" y2="237.04" stroke="#363636" stroke-width="0.6"/>
<line x1="632.71" y1="237.14" x2="632.1" y2="236.08" stroke="#363636" stroke-width="0.6"/>
<line x1="634.25" y1="236.39" x2="633.52" y2="235.11" stroke="#363636" stroke-width="0.6"/>
<line x1="635.8" y1="235.64" x2="634.94" y2="234.15" stroke="#363636" stroke-width="0.6"/>
<line x1="637.34" y1="234.9" x2="636.36" y2="233.19" stroke="#363636" stroke-width="0.6"/>
<line x1="638.89" y1="234.15" x2="637.78" y2="232.22" stroke="#363636" stroke-width="0.6"/>
<line x1="640.44" y1="233.4" x2="639.2" y2="231.26" stroke="#363636" stroke-width="0.6"/>
<line x1="581.24" y1="238.75" x2="572.66" y2="233.8" stroke="#363636" stroke-width="0.72"/>
<text x="572.17" y="234.48" fill="#363636" font-size="7.2" text-anchor="end" >HO</text>
<line x1="593.1" y1="259.3" x2="593.1" y2="269.2" stroke="#363636" stroke-width="0.72"/>
<text x="590.3" y="275.58" fill="#363636" font-size="7.2" text-anchor="start" >OH</text>
<line x1="652.42" y1="211.35" x2="652.42" y2="201.45" stroke="#363636" stroke-width="0.72"/>
<text x="649.62" y="200.23" fill="#363636" font-size="7.2" text-anchor="start" >OH</text>
<line x1="664.29" y1="218.2" x2="672.86" y2="213.25" stroke="#363636" stroke-width="0.72"/>
<text x="673.35" y="213.93" fill="#363636" font-size="7.2" text-anchor="start" >OH</text>
<line x1="558.32" y1="62.29" x2="558.7" y2="61.63" stroke="#363636" stroke-width="0.6"/>
<line x1="559.66" y1="63.26" x2="560.21" y2="62.31" stroke="#363636" stroke-width="0.6"/>
<line x1="561.01" y1="64.23" x2="561.72" y2="62.99" stroke="#363636" stroke-width="0.6"/>
<line x1="562.35" y1="65.2" x2="563.24" y2="63.67" stroke="#363636" stroke-width="0.6"/>
<line x1="563.7" y1="66.17" x2="564.75" y2="64.35" stroke="#363636" stroke-width="0.6"/>
<line x1="565.04" y1="67.14" x2="566.26" y2="65.03" stroke="#363636" stroke-width="0.6"/>
<text x="566.86" y="70.98" fill="#363636" font-size="7.2" text-anchor="start" >OH</text>
<polygon points="557.49,61.55 556.49,68.55 559.09,68.55 558.09,61.55" fill="#2b2bff"/>
<text x="557.79" y="74.53" fill="#2b2bff" font-size="7.2" text-anchor="middle" >H</text>
<polygon points="558.09,47.85 559.09,40.85 556.49,40.85 557.49,47.85" fill="#2b2bff"/>
<text x="557.79" y="40.03" fill="#2b2bff" font-size="7.2" text-anchor="middle" >H</text>
<line x1="545" y1="68.72" x2="545.56" y2="69.31" stroke="#777" stroke-width="0.6"/>
<line x1="543.54" y1="69.78" x2="544.42" y2="70.71" stroke="#777" stroke-width="0.6"/>
<line x1="542.09" y1="70.85" x2="543.28" y2="72.1" stroke="#777" stroke-width="0.6"/>
<line x1="540.64" y1="71.92" x2="542.14" y2="73.5" stroke="#777" stroke-width="0.6"/>
<text x="538.13" y="78.38" fill="#2b2bff" font-size="7.2" text-anchor="middle" >H</text>
<polygon points="545.43,68.4 544.45,103.29 546.95,103.31 546.43,68.4" fill="#111"/>
<polygon points="581.14,124.11 589.12,130.1 590.62,127.5 581.44,123.59" fill="#111"/>
<text x="590.36" y="133.28" fill="#363636" font-size="7.2" text-anchor="start" >OH</text>
<line x1="580.91" y1="124.72" x2="581.74" y2="124.68" stroke="#7a7aff" stroke-width="0.6"/>
<line x1="580.76" y1="126.43" x2="582.03" y2="126.38" stroke="#7a7aff" stroke-width="0.6"/>
<line x1="580.6" y1="128.14" x2="582.32" y2="128.07" stroke="#7a7aff" stroke-width="0.6"/>
<line x1="580.44" y1="129.84" x2="582.61" y2="129.76" stroke="#7a7aff" stroke-width="0.6"/>
<text x="581.69" y="136.63" fill="#2b2bff" font-size="7.2" text-anchor="middle" >H</text>
<polygon points="581.59,110.16 582.8,102.99 580.2,102.91 580.99,110.14" fill="#2b2bff"/>
<text x="581.59" y="102.13" fill="#2b2bff" font-size="7.2" text-anchor="middle" >H</text>
<polygon points="569.23,130.47 562.87,134.74 564.59,136.7 569.63,130.93" fill="#2b2bff"/>
<text x="561.03" y="140.68" fill="#2b2bff" font-size="7.2" text-anchor="middle" >H</text>
<line x1="569.1" y1="131.58" x2="569.76" y2="131.58" stroke="#111" stroke-width="0.7"/>
<line x1="569.05" y1="133.33" x2="569.81" y2="133.33" stroke="#111" stroke-width="0.7"/>
<line x1="568.99" y1="135.09" x2="569.86" y2="135.09" stroke="#111" stroke-width="0.7"/>
<line x1="568.93" y1="136.84" x2="569.92" y2="136.84" stroke="#111" stroke-width="0.7"/>
<line x1="568.88" y1="138.6" x2="569.97" y2="138.6" stroke="#111" stroke-width="0.7"/>
<line x1="568.82" y1="140.35" x2="570.02" y2="140.35" stroke="#111" stroke-width="0.7"/>
<line x1="568.77" y1="142.1" x2="570.08" y2="142.11" stroke="#111" stroke-width="0.7"/>
<line x1="568.71" y1="143.86" x2="570.13" y2="143.86" stroke="#111" stroke-width="0.7"/>
<line x1="568.65" y1="145.61" x2="570.18" y2="145.61" stroke="#111" stroke-width="0.7"/>
<line x1="568.6" y1="147.37" x2="570.23" y2="147.37" stroke="#111" stroke-width="0.7"/>
<line x1="568.54" y1="149.12" x2="570.29" y2="149.12" stroke="#111" stroke-width="0.7"/>
<line x1="568.49" y1="150.88" x2="570.34" y2="150.88" stroke="#111" stroke-width="0.7"/>
<line x1="568.43" y1="152.63" x2="570.39" y2="152.63" stroke="#111" stroke-width="0.7"/>
<line x1="568.37" y1="154.39" x2="570.45" y2="154.39" stroke="#111" stroke-width="0.7"/>
<line x1="568.32" y1="156.14" x2="570.5" y2="156.14" stroke="#111" stroke-width="0.7"/>
<line x1="568.26" y1="157.89" x2="570.55" y2="157.9" stroke="#111" stroke-width="0.7"/>
<line x1="568.21" y1="159.65" x2="570.61" y2="159.65" stroke="#111" stroke-width="0.7"/>
<line x1="568.15" y1="161.4" x2="570.66" y2="161.41" stroke="#111" stroke-width="0.7"/>
<line x1="568.1" y1="163.16" x2="570.71" y2="163.16" stroke="#111" stroke-width="0.7"/>
<line x1="568.04" y1="164.91" x2="570.77" y2="164.91" stroke="#111" stroke-width="0.7"/>
<line x1="567.98" y1="166.67" x2="570.82" y2="166.67" stroke="#111" stroke-width="0.7"/>
<line x1="567.93" y1="168.42" x2="570.87" y2="168.42" stroke="#111" stroke-width="0.7"/>
<line x1="593.16" y1="89.6" x2="586.61" y2="85.51" stroke="#2b2bff" stroke-width="0.9"/>
<text x="583.56" y="86.18" fill="#2b2bff" font-size="7.2" text-anchor="middle" >H</text>
<line x1="616.89" y1="103.3" x2="622.41" y2="106.64" stroke="#2b2bff" stroke-width="0.9"/>
<text x="625.49" y="111.08" fill="#2b2bff" font-size="7.2" text-anchor="middle" >H</text>
<line x1="605.02" y1="110.15" x2="604.89" y2="117.05" stroke="#2b2bff" stroke-width="0.9"/>
<text x="604.82" y="123.03" fill="#2b2bff" font-size="7.2" text-anchor="middle" >H</text>
<line x1="605.52" y1="190.59" x2="605.9" y2="189.93" stroke="#363636" stroke-width="0.6"/>
<line x1="606.86" y1="191.56" x2="607.41" y2="190.61" stroke="#363636" stroke-width="0.6"/>
<line x1="608.21" y1="192.53" x2="608.92" y2="191.29" stroke="#363636" stroke-width="0.6"/>
<line x1="609.55" y1="193.5" x2="610.44" y2="191.97" stroke="#363636" stroke-width="0.6"/>
<line x1="610.9" y1="194.47" x2="611.95" y2="192.65" stroke="#363636" stroke-width="0.6"/>
<line x1="612.24" y1="195.44" x2="613.46" y2="193.33" stroke="#363636" stroke-width="0.6"/>
<text x="614.06" y="199.28" fill="#363636" font-size="7.2" text-anchor="start" >OH</text>
<polygon points="592.63,196.7 591.85,231.9 594.35,231.9 593.63,196.7" fill="#111"/>
<line x1="557.54" y1="189.85" x2="551.31" y2="193.09" stroke="#2b2bff" stroke-width="0.9"/>
<text x="547.94" y="197.43" fill="#2b2bff" font-size="7.2" text-anchor="middle" >H</text>
<line x1="640.59" y1="169.3" x2="646.71" y2="171.98" stroke="#363636" stroke-width="0.72"/>
<text x="647.39" y="176.08" fill="#363636" font-size="7.2" text-anchor="start" >OH</text>
<line x1="616.86" y1="155.6" x2="610.13" y2="151.48" stroke="#2b2bff" stroke-width="0.9"/>
<text x="607.06" y="152.18" fill="#2b2bff" font-size="7.2" text-anchor="middle" >H</text>
<line x1="628.72" y1="176.15" x2="628.72" y2="181.15" stroke="#2b2bff" stroke-width="0.9"/>
<text x="628.72" y="187.13" fill="#2b2bff" font-size="7.2" text-anchor="middle" >H</text>
<polygon points="628.55,252.72 636.53,258.3 637.94,255.65 628.83,252.18" fill="#111"/>
<text x="637.79" y="261.33" fill="#363636" font-size="7.2" text-anchor="start" >OH</text>
<line x1="616.83" y1="259.3" x2="613.27" y2="264.84" stroke="#2b2bff" stroke-width="0.9"/>
<text x="611.43" y="270.28" fill="#2b2bff" font-size="7.2" text-anchor="middle" >H</text>
<line x1="616.83" y1="259.3" x2="620.39" y2="264.84" stroke="#2b2bff" stroke-width="0.9"/>
<text x="622.23" y="270.28" fill="#2b2bff" font-size="7.2" text-anchor="middle" >H</text>
<text x="542.8" y="6.2" fill="#2b2bff" font-size="7.3" text-anchor="start" stroke="#2b2bff" stroke-width="0.22">Signal 6</text>
<line x1="557.3" y1="12" x2="557.3" y2="30" stroke="#2b2bff" stroke-width="0.7"/>
<polygon points="557.3,32.6 556,29.4 558.6,29.4" fill="#2b2bff"/>
<text x="480.3" y="76" fill="#2b2bff" font-size="7.3" text-anchor="start" stroke="#2b2bff" stroke-width="0.22">Signal 2</text>
<path d="M508.6 74.6 Q520 66.5 531.5 73.2" fill="none" stroke="#2b2bff" stroke-width="0.8"/>
<polygon points="534.4,75.4 530.63,74.41 532.45,72.03" fill="#2b2bff"/>
<text x="547.8" y="88" fill="#2b2bff" font-size="7.3" text-anchor="start" stroke="#2b2bff" stroke-width="0.22">Signal 5</text>
<line x1="557.8" y1="77" x2="557.8" y2="81" stroke="#2b2bff" stroke-width="0.8"/>
<polygon points="557.8,75.8 559.1,78.4 556.5,78.4" fill="#2b2bff"/>
<polygon points="557.8,82.2 556.5,79.6 559.1,79.6" fill="#2b2bff"/>
<text x="547.8" y="97.9" fill="#2b2bff" font-size="7.3" text-anchor="start" stroke="#2b2bff" stroke-width="0.22">Signal 7</text>
<path d="M576.8 94.2 Q579.8 93.6 580.5 95.6" fill="none" stroke="#2b2bff" stroke-width="0.7"/>
<polygon points="581.2,97.6 579.07,95.68 581.28,94.74" fill="#2b2bff"/>
<text x="637" y="70.2" fill="#2b2bff" font-size="7.3" text-anchor="start" stroke="#2b2bff" stroke-width="0.22">Signal 10</text>
<path d="M635.6 67.2 Q610 52 587.6 76" fill="none" stroke="#2b2bff" stroke-width="0.7"/>
<polygon points="585.6,78.6 586.48,75.26 588.56,76.82" fill="#2b2bff"/>
<path d="M650.6 76 Q656 98 634.6 106" fill="none" stroke="#2b2bff" stroke-width="0.7"/>
<polygon points="631.8,107 634.31,104.63 635.25,107.05" fill="#2b2bff"/>
<text x="627.6" y="122.2" fill="#2b2bff" font-size="7.3" text-anchor="start" stroke="#2b2bff" stroke-width="0.22">Signal 11</text>
<line x1="613.6" y1="119.7" x2="623" y2="119.7" stroke="#2b2bff" stroke-width="0.7"/>
<polygon points="610.8,119.7 614,118.4 614,121" fill="#2b2bff"/>
<text x="500.6" y="142" fill="#2b2bff" font-size="7.3" text-anchor="start" stroke="#2b2bff" stroke-width="0.22">Signal 3</text>
<path d="M531.4 138.4 Q544 129.6 555.2 136.8" fill="none" stroke="#2b2bff" stroke-width="0.8"/>
<polygon points="557.8,139.2 554.12,137.91 556.13,135.68" fill="#2b2bff"/>
<text x="596.4" y="141.2" fill="#2b2bff" font-size="7.3" text-anchor="start" stroke="#2b2bff" stroke-width="0.22">Signal 4</text>
<line x1="587.6" y1="136" x2="592.4" y2="138.2" stroke="#2b2bff" stroke-width="0.7"/>
<polygon points="585,134.8 588.23,134.94 587.24,137.13" fill="#2b2bff"/>
<text x="571.8" y="150.2" fill="#2b2bff" font-size="7.3" text-anchor="start" stroke="#2b2bff" stroke-width="0.22">Signal 9</text>
<path d="M594.6 153.2 Q598.6 155.6 602 152.8" fill="none" stroke="#2b2bff" stroke-width="0.7"/>
<polygon points="604,151.4 602.58,153.89 601.19,151.93" fill="#2b2bff"/>
<line x1="593" y1="152.8" x2="620.6" y2="180.4" stroke="#2b2bff" stroke-width="0.6"/>
<polygon points="622.8,182.4 619.62,181.06 621.46,179.22" fill="#2b2bff"/>
<text x="501" y="197.6" fill="#2b2bff" font-size="7.3" text-anchor="start" stroke="#2b2bff" stroke-width="0.22">Signal 8</text>
<line x1="531" y1="195" x2="541" y2="195" stroke="#2b2bff" stroke-width="0.7"/>
<polygon points="544,195 540.8,196.3 540.8,193.7" fill="#2b2bff"/>
<text x="606" y="288.6" fill="#2b2bff" font-size="7.3" text-anchor="start" stroke="#2b2bff" stroke-width="0.22">Signal 1</text>
<line x1="617.1" y1="280.4" x2="614.2" y2="276" stroke="#2b2bff" stroke-width="0.7"/>
<line x1="617.1" y1="280.4" x2="620" y2="276" stroke="#2b2bff" stroke-width="0.7"/>
<polygon points="612.7,273 616.15,275.7 612.97,277.38" fill="#2b2bff"/>
<polygon points="621.5,273 621.23,277.38 618.05,275.7" fill="#2b2bff"/>
</g>
</svg></body></html>
